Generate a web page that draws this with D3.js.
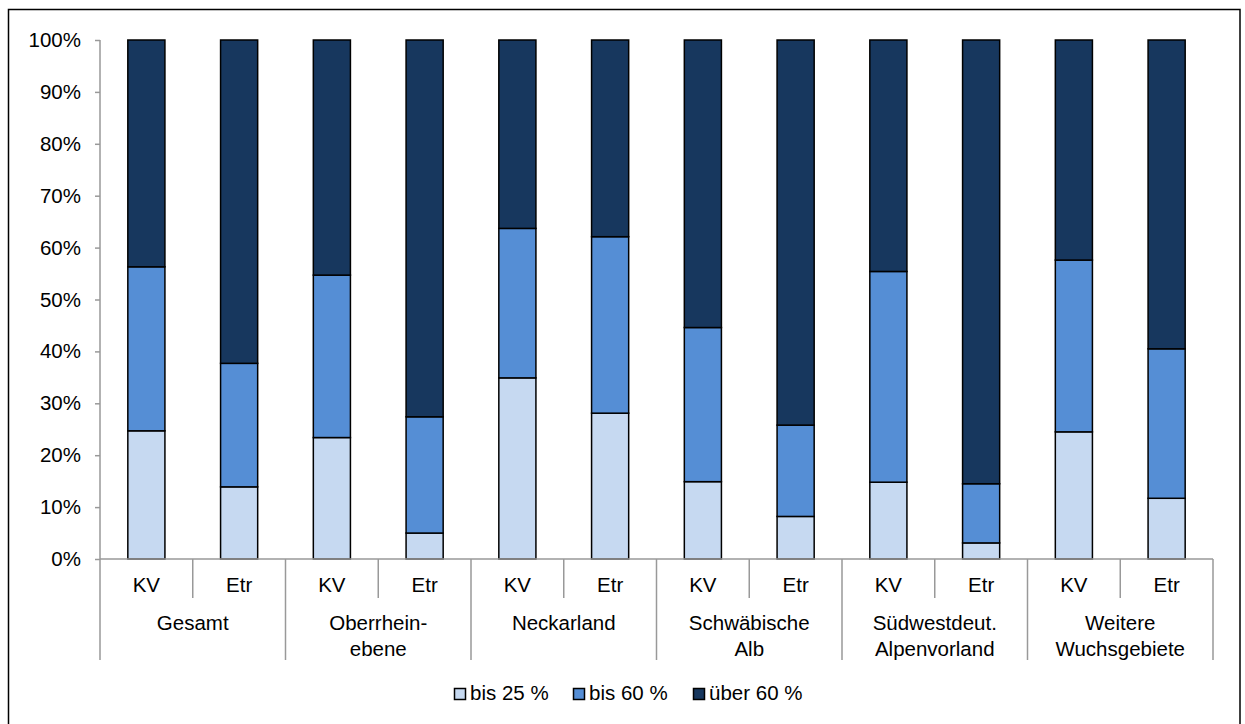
<!DOCTYPE html>
<html><head><meta charset="utf-8">
<script src="https://cdn.jsdelivr.net/npm/d3@7"></script>
<style>body{margin:0;background:#fff}svg{display:block;font-family:"Liberation Sans",Arial,sans-serif}</style>
</head><body>
<svg id="c" width="1245" height="724"></svg>
<script>
const groups = [["Gesamt"],["Oberrhein-","ebene"],["Neckarland"],["Schwäbische","Alb"],["Südwestdeut.","Alpenvorland"],["Weitere","Wuchsgebiete"]];
const subs = ["KV","Etr"];
const bis25 = [24.7,13.9, 23.4,5.0, 34.9,28.1, 14.9,8.2, 14.8,3.1, 24.5,11.7];
const bis60 = [31.6,23.8, 31.3,22.4, 28.8,34.0, 29.7,17.6, 40.6,11.4, 33.1,28.8];
const ueber60 = [43.7,62.3, 45.3,72.6, 36.3,37.9, 55.4,74.2, 44.6,85.5, 42.4,59.5];
const seriesNames = ["bis 25 %","bis 60 %","über 60 %"];
const colors = ["#C6D9F1","#558ED5","#17375E"];
const yTicks = [0,10,20,30,40,50,60,70,80,90,100];

(function(){
const FS = 20.5;
const svg = d3.select("#c");
svg.append("rect").attr("x",8.5).attr("y",9.5).attr("width",1231.5).attr("height",730)
  .attr("fill","none").attr("stroke","#000").attr("stroke-width",1.5);

const pL=100,pR=1213,pT=40,pB=559;
const keys = [];
groups.forEach((g,gi)=>subs.forEach(s=>keys.push(gi+"_"+s)));
const x = d3.scaleBand().domain(keys).range([pL,pR]).paddingInner(0.6).paddingOuter(0.3);
const xSlot = d3.scaleBand().domain(keys).range([pL,pR]);
const y = d3.scaleLinear().domain([0,100]).range([pB,pT]);

const data = keys.map((k,i)=>({key:k, s0:bis25[i], s1:bis60[i], s2:ueber60[i]}));
const stack = d3.stack().keys(["s0","s1","s2"])(data);

stack.forEach((layer,li)=>{
  svg.append("g").selectAll("rect").data(layer).join("rect")
    .attr("x",d=>x(d.data.key)).attr("width",x.bandwidth())
    .attr("y",d=>y(Math.min(d[1],100))).attr("height",d=>y(d[0])-y(Math.min(d[1],100)))
    .attr("fill",colors[li]).attr("stroke","#000").attr("stroke-width",1.5);
});

const yAx = svg.append("g").attr("transform",`translate(${pL},0)`)
  .call(d3.axisLeft(y).tickValues(yTicks).tickFormat(d=>d+"%").tickSize(5).tickSizeOuter(0));
yAx.select(".domain").remove();
yAx.selectAll("line").attr("stroke","#999").attr("stroke-width",1.5);
yAx.selectAll("text").attr("font-size",FS).attr("fill","#000").attr("dx",-11).attr("font-family","Liberation Sans, Arial");
svg.append("line").attr("x1",pL).attr("x2",pL).attr("y1",pT).attr("y2",660).attr("stroke","#999").attr("stroke-width",1.5);

svg.append("line").attr("x1",pL).attr("x2",pR).attr("y1",pB).attr("y2",pB).attr("stroke","#999").attr("stroke-width",1.5);
keys.forEach((k,i)=>{
  const xr = xSlot(k)+xSlot.bandwidth();
  const major = (i%2===1);
  svg.append("line").attr("x1",xr).attr("x2",xr).attr("y1",pB).attr("y2",major?660:598)
    .attr("stroke","#999").attr("stroke-width",1.5);
  svg.append("text").attr("x",xSlot(k)+xSlot.bandwidth()/2).attr("y",592)
    .attr("text-anchor","middle").attr("font-size",FS).text(subs[i%2]);
});
groups.forEach((g,gi)=>{
  const cx = xSlot(gi+"_KV")+xSlot.bandwidth();
  const t = svg.append("text").attr("x",cx).attr("y",630).attr("text-anchor","middle").attr("font-size",FS);
  g.forEach((line,li)=>t.append("tspan").attr("x",cx).attr("dy",li===0?0:25.5).text(line));
});

const lx=[454,573,693];
seriesNames.forEach((n,i)=>{
  svg.append("rect").attr("x",lx[i]+0.5).attr("y",688.5).attr("width",11).attr("height",11)
    .attr("fill",colors[i]).attr("stroke","#000").attr("stroke-width",1.5);
  svg.append("text").attr("x",lx[i]+16).attr("y",700).attr("font-size",FS).text(n);
});
})();
</script>
</body></html>
